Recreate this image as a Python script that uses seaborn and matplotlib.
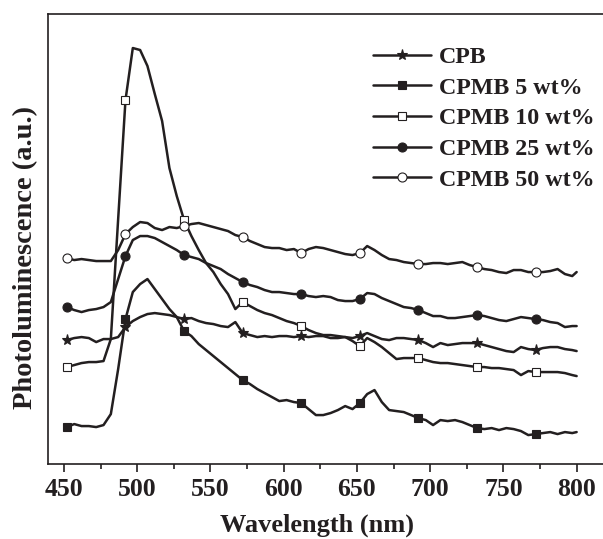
import matplotlib
matplotlib.use("Agg")
import matplotlib.pyplot as plt
import seaborn as sns
import pandas as pd
from matplotlib.ticker import MultipleLocator

# wavelength grid (nm), every 5 nm
wavelength = [452, 457, 462, 467, 472, 477, 482, 487, 492, 497, 502, 507, 512, 517, 522, 527,
              532, 537, 542, 547, 552, 557, 562, 567, 572, 577, 582, 587, 592, 597, 602, 607,
              612, 617, 622, 627, 632, 637, 642, 647, 652, 657, 662, 667, 672, 677, 682, 687,
              692, 697, 702, 707, 712, 717, 722, 727, 732, 737, 742, 747, 752, 757, 762, 767,
              772, 777, 782, 787, 792, 797, 800]

# intensities (a.u., stacked curves as drawn)
cpb = [124, 126, 127, 126, 122, 125, 125, 127, 137, 143, 147, 150, 151, 150, 149, 147,
       145, 146, 143, 141, 140, 138, 137, 142, 131, 129, 127, 128, 127, 128, 128, 127,
       128, 127, 128, 128, 126, 126, 127, 126, 128, 131, 128, 125, 124, 126, 126, 125,
       124, 121, 117, 121, 119, 120, 121, 121, 121, 119, 117, 115, 113, 112, 117, 115,
       114, 116, 117, 117, 115, 114, 113]
cpmb5 = [37, 40, 38, 38, 37, 39, 50, 95, 145, 172, 180, 185, 175, 165, 155, 147,
         133, 128, 120, 114, 108, 102, 96, 90, 84, 80, 75, 71, 67, 63, 64, 62,
         61, 55, 49, 49, 51, 54, 58, 55, 61, 70, 74, 62, 54, 53, 52, 49,
         46, 44, 39, 44, 43, 44, 42, 39, 36, 35, 36, 34, 36, 35, 33, 29,
         30, 31, 32, 30, 32, 31, 32]
cpmb10 = [97, 99, 101, 102, 102, 103, 125, 245, 364, 416, 414, 398, 370, 343, 296, 268,
          244, 228, 214, 201, 192, 180, 170, 155, 162, 158, 154, 151, 149, 146, 143, 141,
          138, 134, 131, 129, 129, 128, 127, 123, 118, 126, 122, 117, 111, 105, 106, 106,
          106, 104, 102, 101, 101, 100, 99, 98, 97, 97, 96, 96, 95, 94, 89, 93,
          92, 92, 92, 92, 91, 89, 88]
cpmb25 = [157, 154, 152, 154, 155, 157, 162, 185, 208, 224, 228, 228, 226, 222, 218, 214,
          209, 207, 205, 201, 198, 195, 190, 186, 182, 179, 177, 174, 172, 172, 171, 170,
          170, 168, 167, 168, 167, 164, 163, 163, 165, 171, 170, 166, 163, 160, 157, 156,
          154, 151, 148, 148, 146, 146, 147, 148, 149, 148, 146, 144, 143, 145, 147, 146,
          145, 144, 142, 141, 137, 138, 138]
cpmb50 = [206, 204, 205, 204, 203, 203, 203, 214, 230, 237, 242, 241, 236, 234, 237, 236,
          238, 240, 241, 239, 237, 235, 233, 229, 227, 223, 220, 217, 216, 216, 214, 215,
          211, 215, 217, 216, 214, 212, 210, 209, 211, 218, 214, 209, 205, 204, 202, 201,
          200, 200, 201, 201, 200, 201, 202, 199, 197, 195, 194, 192, 191, 194, 194, 192,
          192, 192, 193, 195, 190, 188, 192]

labels = ["CPB", "CPMB 5 wt%", "CPMB 10 wt%", "CPMB 25 wt%", "CPMB 50 wt%"]
series = [cpb, cpmb5, cpmb10, cpmb25, cpmb50]
markers = ["*", "s", "s", "o", "o"]
faces = ["#231f20", "#231f20", "white", "#231f20", "white"]
msizes = [8, 6, 6, 6.5, 6.5]

sns.set_style("ticks")
plt.rcParams['font.family'] = ['Liberation Serif', 'DejaVu Serif']
plt.rcParams['font.weight'] = 'bold'

ink = "#231f20"
fig = plt.figure(figsize=(6.03, 5.39), dpi=100)
ax = fig.add_axes([0.0796, 0.139, 0.9204, 0.835])

for vals, lab, m, fc, ms in zip(series, labels, markers, faces, msizes):
    df = pd.DataFrame({"wl": wavelength, "pl": vals})
    sns.lineplot(data=df, x="wl", y="pl", ax=ax, color=ink, linewidth=1.8,
                 marker=m, markersize=ms, markerfacecolor=fc, markeredgecolor=ink,
                 markeredgewidth=0.8, markevery=8, label=lab)

ax.set_xlim(439.1, 818)
ax.set_ylim(0, 450)
ax.xaxis.set_major_locator(MultipleLocator(50))
ax.xaxis.set_minor_locator(MultipleLocator(25))
ax.set_yticks([])
ax.tick_params(axis='x', which='major', direction='out', length=6, width=1.2,
               colors=ink, labelsize=18.5, pad=4)
ax.tick_params(axis='x', which='minor', direction='out', length=3.5, width=1.2, colors=ink)
for lbl in ax.get_xticklabels():
    lbl.set_fontweight('bold')
ax.spines['right'].set_visible(False)
for s in ['left', 'top', 'bottom']:
    ax.spines[s].set_linewidth(1.2)
    ax.spines[s].set_color(ink)

ax.set_xlabel("Wavelength (nm)", fontsize=19, fontweight='bold', color=ink)
ax.xaxis.set_label_coords(0.485, -0.11)
ax.set_ylabel("Photoluminescence (a.u.)", fontsize=20.5, fontweight='bold', color=ink)
ax.yaxis.set_label_coords(-0.018, 0.46)

leg = ax.legend(loc='upper left', bbox_to_anchor=(0.568, 0.95), frameon=False,
                fontsize=17.3, handlelength=2.4, handletextpad=0.36, labelspacing=0.37,
                borderaxespad=0)
for t in leg.get_texts():
    t.set_fontweight('bold')
    t.set_color(ink)

fig.savefig("out.png", dpi=100)
